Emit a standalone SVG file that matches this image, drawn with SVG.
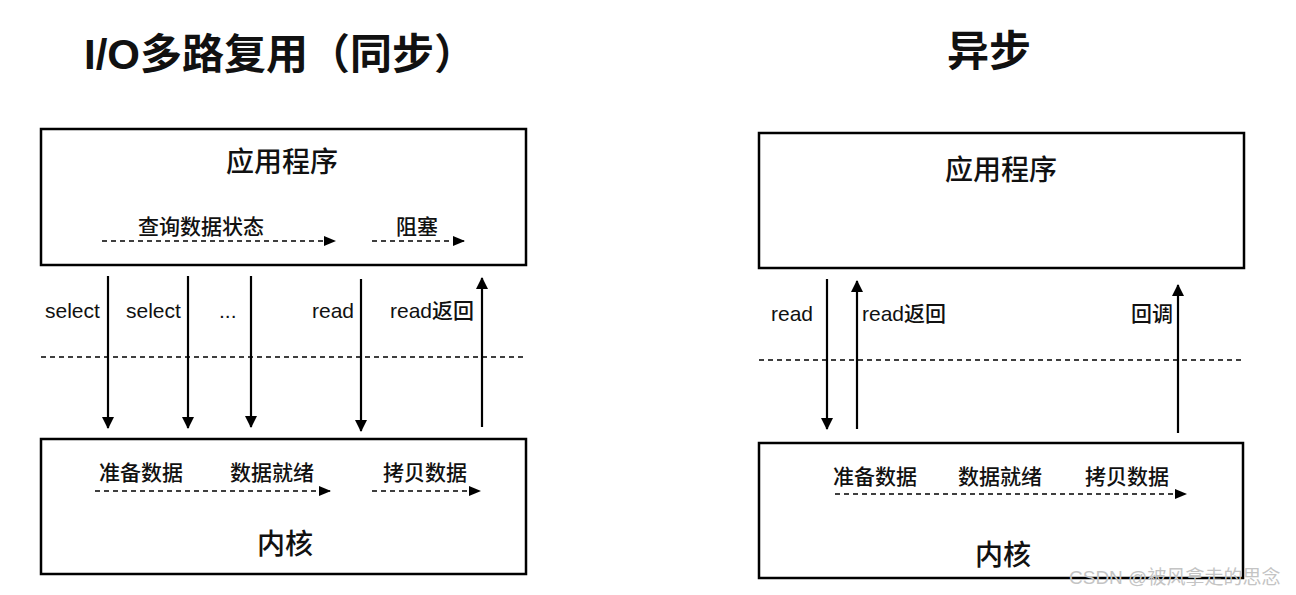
<svg xmlns="http://www.w3.org/2000/svg" width="1296" height="595" viewBox="0 0 1296 595">
<style>
.box{fill:#fff;stroke:#000;stroke-width:2.5}
.cjk{font-family:"Noto Sans CJK SC","Liberation Sans",sans-serif;fill:#111}
.lat{font-family:"Liberation Sans","Noto Sans CJK SC",sans-serif;fill:#111}
.title{font-size:42px;font-weight:bold}
.big{font-size:28px;font-weight:500}
.lbl{font-size:21px;font-weight:500}
.sol{stroke:#000;stroke-width:2.2;fill:none}
.dash{stroke:#000;stroke-width:1.6;stroke-dasharray:5 4;fill:none}
.wm{font-family:"Liberation Sans","Noto Sans CJK SC",sans-serif;font-size:19px;fill:#c4c4c4}
</style>
<defs>
<marker id="ah" viewBox="0 0 12 12" refX="11" refY="6" markerWidth="12" markerHeight="12" markerUnits="userSpaceOnUse" orient="auto">
<path d="M0,0 L12,6 L0,12 z" fill="#000"/>
</marker>
<marker id="ahs" viewBox="0 0 12 10" refX="11" refY="5" markerWidth="12" markerHeight="10" markerUnits="userSpaceOnUse" orient="auto">
<path d="M0,0 L12,5 L0,10 z" fill="#000"/>
</marker>
</defs>

<g id="titles">
<text class="cjk title" x="84" y="69"><tspan class="lat">I/O</tspan>多路复用（同步）</text>
<text class="cjk title" x="989" y="66" text-anchor="middle">异步</text>
</g>

<g id="sync-app">
<rect class="box" x="41" y="129" width="485" height="136"/>
<text class="cjk big" x="282" y="172" text-anchor="middle">应用程序</text>
<text class="cjk lbl" x="201" y="234" text-anchor="middle">查询数据状态</text>
<text class="cjk lbl" x="417" y="234" text-anchor="middle">阻塞</text>
</g>

<g id="sync-kernel">
<rect class="box" x="41" y="439" width="485" height="135"/>
<text class="cjk lbl" x="141" y="480" text-anchor="middle">准备数据</text>
<text class="cjk lbl" x="272" y="480" text-anchor="middle">数据就绪</text>
<text class="cjk lbl" x="425" y="480" text-anchor="middle">拷贝数据</text>
<text class="cjk big" x="285" y="554" text-anchor="middle">内核</text>
</g>

<g id="async-app">
<rect class="box" x="759" y="133" width="485" height="135"/>
<text class="cjk big" x="1001" y="180" text-anchor="middle">应用程序</text>
</g>

<g id="async-kernel">
<rect class="box" x="759" y="443" width="484" height="135"/>
<text class="cjk lbl" x="875" y="484" text-anchor="middle">准备数据</text>
<text class="cjk lbl" x="1000" y="484" text-anchor="middle">数据就绪</text>
<text class="cjk lbl" x="1127" y="484" text-anchor="middle">拷贝数据</text>
<text class="cjk big" x="1003" y="565" text-anchor="middle">内核</text>
</g>

<g id="connectors">
<line class="dash" x1="102" y1="241" x2="335" y2="241" marker-end="url(#ahs)"/>
<line class="dash" x1="372" y1="241" x2="464" y2="241" marker-end="url(#ahs)"/>
<line class="dash" x1="95" y1="491" x2="330" y2="491" marker-end="url(#ahs)"/>
<line class="dash" x1="372" y1="491" x2="480" y2="491" marker-end="url(#ahs)"/>
<line class="dash" x1="835" y1="494" x2="1186" y2="494" marker-end="url(#ahs)"/>

<line class="dash" x1="41" y1="357" x2="527" y2="357"/>
<line class="dash" x1="759" y1="360" x2="1245" y2="360"/>

<line class="sol" x1="108" y1="276" x2="108" y2="428" marker-end="url(#ah)"/>
<line class="sol" x1="188" y1="276" x2="188" y2="428" marker-end="url(#ah)"/>
<line class="sol" x1="251" y1="276" x2="251" y2="427" marker-end="url(#ah)"/>
<line class="sol" x1="361" y1="279" x2="361" y2="431" marker-end="url(#ah)"/>
<line class="sol" x1="482" y1="427" x2="482" y2="278" marker-end="url(#ah)"/>

<line class="sol" x1="827" y1="279" x2="827" y2="429" marker-end="url(#ah)"/>
<line class="sol" x1="857" y1="429" x2="857" y2="281" marker-end="url(#ah)"/>
<line class="sol" x1="1178" y1="433" x2="1178" y2="285" marker-end="url(#ah)"/>

<text class="lat lbl" x="45" y="318">select</text>
<text class="lat lbl" x="126" y="318">select</text>
<text class="lat lbl" x="219" y="318">...</text>
<text class="lat lbl" x="312" y="318">read</text>
<text class="lat lbl" x="390" y="318">read返回</text>

<text class="lat lbl" x="771" y="321">read</text>
<text class="lat lbl" x="862" y="321">read返回</text>
<text class="cjk lbl" x="1131" y="321">回调</text>
</g>

<text class="wm" x="1069" y="584">CSDN @被风拿走的思念</text>
</svg>
